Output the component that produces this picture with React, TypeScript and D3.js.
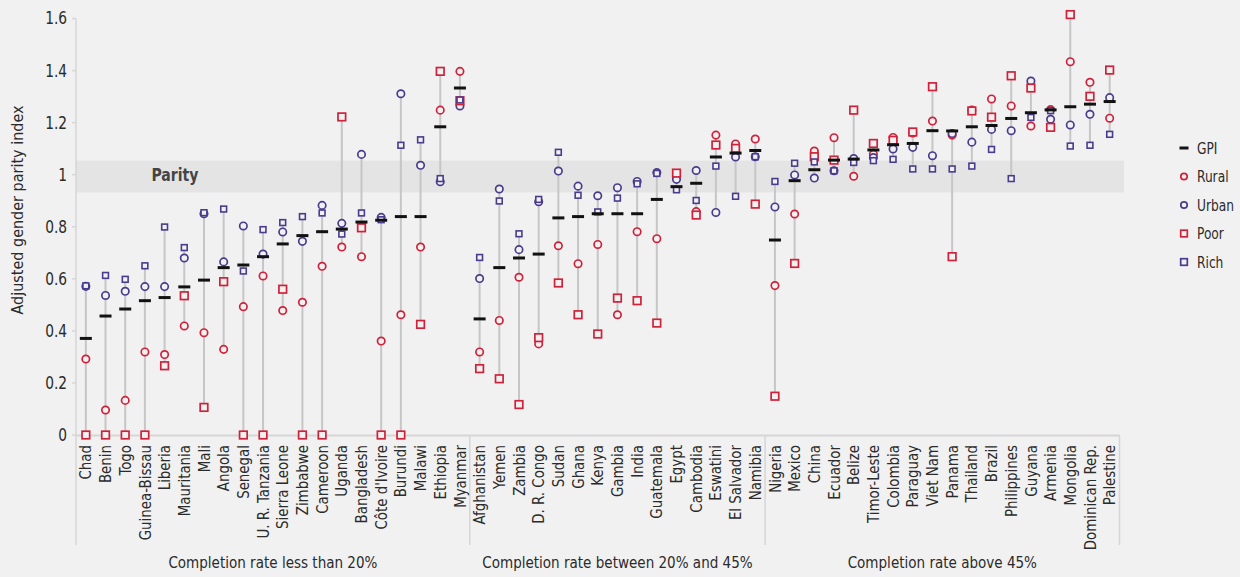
import React from "react";
import * as d3 from "d3";

const countries = [
  "Chad","Benin","Togo","Guinea-Bissau","Liberia","Mauritania","Mali","Angola","Senegal","U. R. Tanzania",
  "Sierra Leone","Zimbabwe","Cameroon","Uganda","Bangladesh","Côte d'Ivoire","Burundi","Malawi","Ethiopia","Myanmar",
  "Afghanistan","Yemen","Zambia","D. R. Congo","Sudan","Ghana","Kenya","Gambia","India","Guatemala",
  "Egypt","Cambodia","Eswatini","El Salvador","Namibia",
  "Nigeria","Mexico","China","Ecuador","Belize","Timor-Leste","Colombia","Paraguay","Viet Nam","Panama",
  "Thailand","Brazil","Philippines","Guyana","Armenia","Mongolia","Dominican Rep.","Palestine"
];

const gpi = [
  0.371,0.457,0.484,0.516,0.528,0.569,0.595,0.643,0.653,0.685,
  0.734,0.766,0.781,0.791,0.818,0.825,0.839,0.839,1.184,1.333,
  0.446,0.643,0.680,0.695,0.834,0.839,0.850,0.850,0.850,0.905,
  0.954,0.967,1.068,1.083,1.093,
  0.749,0.977,1.019,1.056,1.060,1.095,1.115,1.120,1.169,1.168,
  1.184,1.189,1.216,1.238,1.249,1.261,1.271,1.281
];
const rural = [
  0.292,0.096,0.133,0.319,0.309,0.419,0.393,0.329,0.493,0.611,
  0.478,0.510,0.648,0.722,0.685,0.361,0.462,0.722,1.248,1.397,
  0.319,0.440,0.606,0.350,0.727,0.658,0.732,0.462,0.781,0.754,
  0.992,0.858,1.152,1.118,1.137,
  0.574,0.849,1.091,1.142,0.994,1.079,1.143,1.160,1.206,1.152,
  1.248,1.291,1.264,1.187,1.250,1.434,1.355,1.217
];
const urban = [
  0.571,0.536,0.552,0.570,0.570,0.680,0.850,0.665,0.803,0.695,
  0.780,0.744,0.882,0.813,1.078,0.836,1.311,1.036,0.973,1.264,
  0.601,0.945,0.712,0.896,1.014,0.956,0.919,0.950,0.974,1.008,
  0.982,1.016,0.855,1.068,1.069,
  0.876,0.999,0.987,1.015,1.062,1.066,1.099,1.105,1.073,1.158,
  1.125,1.174,1.169,1.360,1.213,1.191,1.232,1.296
];
const poor = [
  0,0,0,0,0.266,0.535,0.106,0.589,0,0,
  0.560,0,0,1.222,0.796,0,0,0.425,1.397,1.284,
  0.255,0.216,0.117,0.374,0.584,0.462,0.388,0.526,0.516,0.430,
  1.006,0.845,1.114,1.101,0.887,
  0.149,0.659,1.069,1.056,1.248,1.120,1.132,1.164,1.338,0.685,
  1.245,1.221,1.380,1.333,1.182,1.615,1.301,1.402
];
const rich = [
  0.573,0.613,0.598,0.650,0.799,0.720,0.854,0.868,0.630,0.789,
  0.816,0.839,0.853,0.772,0.853,0.827,1.113,1.134,0.985,1.287,
  0.682,0.899,0.773,0.905,1.086,0.921,0.857,0.910,0.965,1.005,
  0.942,0.901,1.033,0.917,1.069,
  0.974,1.044,1.049,1.015,1.047,1.054,1.059,1.022,1.022,1.022,
  1.033,1.097,0.985,1.220,1.246,1.110,1.113,1.155
];

const groupLabels = ["Completion rate less than 20%", "Completion rate between 20% and 45%", "Completion rate above 45%"];
const groupSizes = [20, 15, 18];
const yTicks = [0, 0.2, 0.4, 0.6, 0.8, 1, 1.2, 1.4, 1.6];
const parityRange = [0.932, 1.054];
const legendItems = ["GPI", "Rural", "Urban", "Poor", "Rich"];

const FONT = "'Liberation Sans Narrow','DejaVu Sans Condensed',sans-serif";
const BG = "#f1f1f1";
const RED = "#d0213a";
const PURPLE = "#4a3b8e";
const TEXT = "#2b2b2b";

type TxtProps = {
  x: number; y: number; rot?: number; sx?: number; anchor?: string; size?: number;
  weight?: string; fill?: string; children: React.ReactNode;
};
function Txt({ x, y, rot = 0, sx = 1, anchor = "start", size = 16, weight = "normal", fill = TEXT, children }: TxtProps) {
  return (
    <text
      transform={`translate(${x},${y}) rotate(${rot}) scale(${sx},1)`}
      textAnchor={anchor}
      dy="0.35em"
      fontSize={size}
      fontWeight={weight}
      fill={fill}
    >
      {children}
    </text>
  );
}

export default function App() {
  const W = 1240, H = 577;
  const x = d3.scaleBand<string>().domain(countries).range([76, 1119.5]).padding(0);
  const y = d3.scaleLinear().domain([0, 1.6]).range([435, 18.5]);
  const bw = x.bandwidth();
  const cx = (c: string) => (x(c) as number) + bw / 2;

  const bounds: number[] = [0];
  groupSizes.forEach((s, i) => bounds.push(bounds[i] + s));
  const edgeX = (idx: number) => (idx < countries.length ? (x(countries[idx]) as number) : 76 + bw * countries.length);

  return (
    <svg width={W} height={H} style={{ position: "absolute", left: 0, top: 0, fontFamily: FONT }}>
      <rect x={0} y={0} width={W} height={H} fill={BG} />
      {/* parity band */}
      <rect x={76} y={y(parityRange[1])} width={1124 - 76} height={y(parityRange[0]) - y(parityRange[1])} fill="#e4e4e4" />
      <Txt x={175} y={y(1)} anchor="middle" weight="bold" size={17} sx={0.92} fill="#444">Parity</Txt>

      {/* y axis */}
      <line x1={76} x2={76} y1={y(1.6)} y2={435} stroke="#d6d6d6" strokeWidth={1.5} />
      {yTicks.map((t) => (
        <g key={t}>
          <line x1={72} x2={76} y1={y(t)} y2={y(t)} stroke="#d6d6d6" strokeWidth={1.5} />
          <Txt x={67} y={y(t)} anchor="end" size={17} sx={0.9}>{d3.format("")(t)}</Txt>
        </g>
      ))}
      <Txt x={17} y={210} rot={-90} anchor="middle" size={16} sx={1.0}>Adjusted gender parity index</Txt>

      {/* x axis baseline and group separators */}
      <line x1={76} x2={1119.5} y1={435.5} y2={435.5} stroke="#d6d6d6" strokeWidth={2} />
      {bounds.map((b, i) => (
        <line key={i} x1={edgeX(b)} x2={edgeX(b)} y1={435} y2={545} stroke="#d6d6d6" strokeWidth={1.5} />
      ))}
      {groupLabels.map((g, i) => (
        <Txt key={g} x={(edgeX(bounds[i]) + edgeX(bounds[i + 1])) / 2} y={562} anchor="middle" size={16} sx={0.94}>{g}</Txt>
      ))}

      {/* country labels */}
      {countries.map((c) => (
        <Txt key={c} x={cx(c)} y={445} rot={-90} anchor="end" size={16} sx={0.93}>{c}</Txt>
      ))}

      {/* stems */}
      {countries.map((c, i) => {
        const vals = [gpi[i], rural[i], urban[i], poor[i], rich[i]];
        return (
          <line key={c} x1={cx(c)} x2={cx(c)} y1={y(d3.min(vals) as number)} y2={y(d3.max(vals) as number)} stroke="#c6c6c6" strokeWidth={2} />
        );
      })}

      {/* markers */}
      {countries.map((c, i) => (
        <g key={c}>
          <circle cx={cx(c)} cy={y(rural[i])} r={3.7} fill={BG} stroke={RED} strokeWidth={1.7} />
          <circle cx={cx(c)} cy={y(urban[i])} r={3.7} fill={BG} stroke={PURPLE} strokeWidth={1.7} />
          <rect x={cx(c) - 3.8} y={y(poor[i]) - 3.8} width={7.6} height={7.6} fill={BG} stroke={RED} strokeWidth={1.7} />
          <rect x={cx(c) - 2.9} y={y(rich[i]) - 2.9} width={5.8} height={5.8} fill={BG} stroke={PURPLE} strokeWidth={1.6} />
          <line x1={cx(c) - 6} x2={cx(c) + 6} y1={y(gpi[i])} y2={y(gpi[i])} stroke="#111" strokeWidth={3} />
        </g>
      ))}

      {/* legend */}
      {legendItems.map((l, i) => {
        const ly = 148 + i * 28.5;
        const mx = 1184;
        let marker;
        if (l === "GPI") marker = <line x1={mx - 4.5} x2={mx + 4.5} y1={ly} y2={ly} stroke="#111" strokeWidth={3} />;
        else if (l === "Rural") marker = <circle cx={mx} cy={ly} r={3.2} fill={BG} stroke={RED} strokeWidth={1.7} />;
        else if (l === "Urban") marker = <circle cx={mx} cy={ly} r={3.2} fill={BG} stroke={PURPLE} strokeWidth={1.7} />;
        else if (l === "Poor") marker = <rect x={mx - 3.3} y={ly - 3.3} width={6.6} height={6.6} fill={BG} stroke={RED} strokeWidth={1.7} />;
        else marker = <rect x={mx - 3.3} y={ly - 3.3} width={6.6} height={6.6} fill={BG} stroke={PURPLE} strokeWidth={1.7} />;
        return (
          <g key={l}>
            {marker}
            <Txt x={1197} y={ly} size={16} sx={0.85}>{l}</Txt>
          </g>
        );
      })}
    </svg>
  );
}
